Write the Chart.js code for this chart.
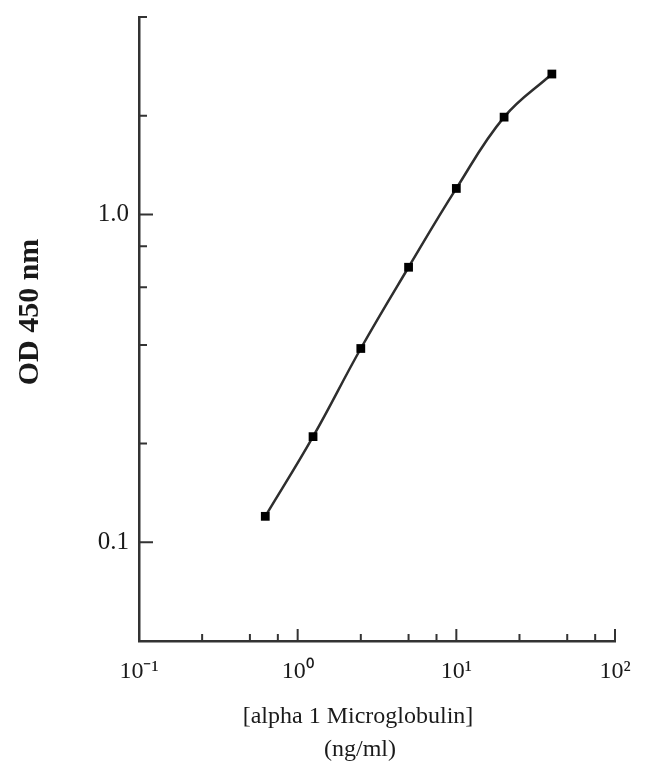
<!DOCTYPE html>
<html>
<head>
<meta charset="utf-8">
<script src="https://cdn.jsdelivr.net/npm/chart.js@4"></script>
<style>
  html, body { margin: 0; background: #fff; }
  #wrap { width: 650px; height: 781px; }
</style>
</head>
<body>
<div id="wrap"><canvas id="chart"></canvas></div>
<script>
// standard curve data
const concentration = [0.625, 1.25, 2.5, 5, 10, 20, 40];
const od450 = [0.12, 0.21, 0.39, 0.69, 1.2, 1.98, 2.68];

// axis ticks
const xTickValues = [0.1, 0.25, 0.5, 0.75, 1, 2.5, 5, 7.5, 10, 25, 50, 75, 100];
const xTickLabels = { 0.1: "10⁻¹", 1: "10⁰", 10: "10¹", 100: "10²" };
const yTickValues = [0.1, 0.2, 0.4, 0.6, 0.8, 1, 2, 4];
const yTickLabels = { 0.1: "0.1", 1: "1.0" };

const xTitle = ["[alpha 1 Microglobulin]", "(ng/ml)"];
const yTitle = "OD 450 nm";

const inkColor = "#1a1a1a";
const serif = "'Liberation Serif', 'Times New Roman', serif";

function isDecade(v) {
  const l = Math.log10(v);
  return Math.abs(l - Math.round(l)) < 1e-9;
}

// tick marks point into the plot, like the original
const inwardTicks = {
  id: "inwardTicks",
  afterDatasetsDraw(chart) {
    const { ctx, chartArea, scales } = chart;
    ctx.save();
    ctx.strokeStyle = "#333";
    ctx.lineWidth = 2;
    ctx.beginPath();
    xTickValues.forEach(v => {
      const px = scales.x.getPixelForValue(v);
      const len = isDecade(v) ? 12 : 7;
      ctx.moveTo(px, chartArea.bottom);
      ctx.lineTo(px, chartArea.bottom - len);
    });
    yTickValues.forEach(v => {
      const py = scales.y.getPixelForValue(v);
      const len = isDecade(v) ? 14 : 8;
      ctx.moveTo(chartArea.left, py);
      ctx.lineTo(chartArea.left + len, py);
    });
    ctx.stroke();
    ctx.restore();
  }
};

// axis titles placed where the original has them
const axisTitles = {
  id: "axisTitles",
  afterDraw(chart) {
    const { ctx } = chart;
    ctx.save();
    ctx.fillStyle = inkColor;
    ctx.textAlign = "center";
    ctx.textBaseline = "middle";
    ctx.font = "24px " + serif;
    ctx.fillText(xTitle[0], 358, 717);
    ctx.fillText(xTitle[1], 360, 750);
    ctx.translate(30, 312);
    ctx.rotate(-Math.PI / 2);
    ctx.font = "bold 30px " + serif;
    ctx.fillText(yTitle, 0, 0);
    ctx.restore();
  }
};

new Chart(document.getElementById("chart"), {
  type: "line",
  data: {
    datasets: [{
      data: concentration.map((c, i) => ({ x: c, y: od450[i] })),
      borderColor: "#2e2e2e",
      borderWidth: 2.5,
      tension: 0.4,
      fill: false,
      pointStyle: "rect",
      pointRadius: 6.2,
      pointBackgroundColor: "#000",
      pointBorderColor: "#000",
      pointBorderWidth: 0
    }]
  },
  options: {
    responsive: true,
    maintainAspectRatio: false,
    animation: false,
    layout: { padding: { top: 16, right: 35, left: 0, bottom: 0 } },
    plugins: { legend: { display: false }, tooltip: { enabled: false } },
    scales: {
      x: {
        type: "logarithmic",
        min: 0.1,
        max: 100,
        afterBuildTicks: s => { s.ticks = xTickValues.map(v => ({ value: v })); },
        afterFit: s => { s.height = 140; },
        ticks: {
          autoSkip: false,
          maxRotation: 0,
          padding: 8,
          color: inkColor,
          font: { family: serif, size: 24 },
          callback: v => xTickLabels[v] || ""
        },
        grid: { display: false },
        border: { color: "#333", width: 2.5 }
      },
      y: {
        type: "logarithmic",
        min: 0.05,
        max: 4,
        afterBuildTicks: s => { s.ticks = yTickValues.map(v => ({ value: v })); },
        afterFit: s => { s.width = 139; },
        ticks: {
          autoSkip: false,
          padding: 2,
          color: inkColor,
          font: { family: serif, size: 25 },
          callback: v => yTickLabels[v] || ""
        },
        grid: { display: false },
        border: { color: "#333", width: 2.5 }
      }
    }
  },
  plugins: [inwardTicks, axisTitles]
});
</script>
</body>
</html>
